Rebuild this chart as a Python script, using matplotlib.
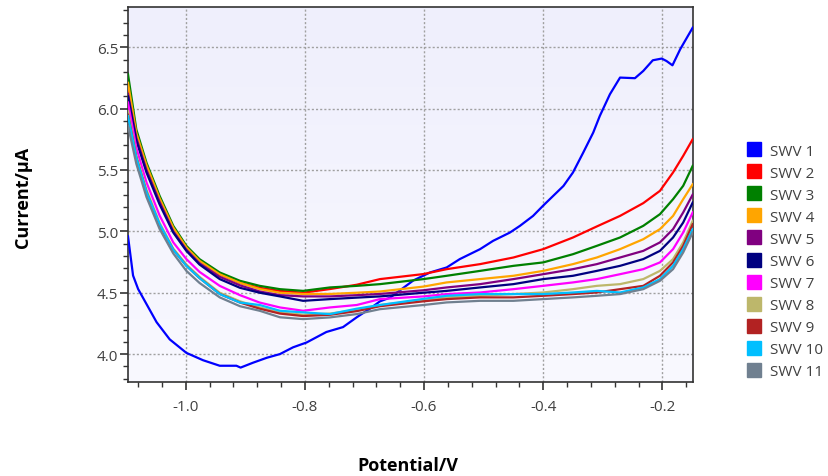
import numpy as np
import matplotlib
matplotlib.use("Agg")
import matplotlib.pyplot as plt
from matplotlib.lines import Line2D

plt.rcParams["font.family"] = ["Open Sans", "DejaVu Sans"]

labels = ["SWV 1", "SWV 2", "SWV 3", "SWV 4", "SWV 5", "SWV 6",
          "SWV 7", "SWV 8", "SWV 9", "SWV 10", "SWV 11"]
colors = ["#0000FF", "#FF0000", "#008000", "#FFA500", "#800080", "#000080",
          "#FF00FF", "#BDB76B", "#B22222", "#00BFFF", "#708090"]

# SWV 1 has its own potentials
x1 = [-1.097, -1.0885, -1.080, -1.049, -1.027, -0.999, -0.971, -0.943, -0.915,
      -0.908, -0.887, -0.864, -0.842, -0.820, -0.797, -0.764, -0.736, -0.713,
      -0.691, -0.674, -0.657, -0.618, -0.590, -0.562, -0.540, -0.506, -0.484,
      -0.456, -0.439, -0.417, -0.400, -0.383, -0.366, -0.350, -0.333, -0.316,
      -0.305, -0.288, -0.271, -0.246, -0.232, -0.216, -0.201, -0.193, -0.183,
      -0.170, -0.149]
swv1 = [4.96, 4.64, 4.53, 4.26, 4.12, 4.01, 3.95, 3.905, 3.905,
        3.89, 3.93, 3.97, 4.00, 4.055, 4.095, 4.18, 4.22, 4.30,
        4.37, 4.43, 4.46, 4.60, 4.665, 4.706, 4.774, 4.855, 4.923,
        4.99, 5.045, 5.126, 5.21, 5.29, 5.37, 5.48, 5.64, 5.805,
        5.94, 6.117, 6.253, 6.248, 6.307, 6.394, 6.408, 6.388, 6.353,
        6.484, 6.66]

# SWV 2 - 11 share these potentials
x = [-1.097, -1.083, -1.066, -1.044, -1.021, -0.999, -0.977, -0.943, -0.909,
     -0.876, -0.842, -0.803, -0.758, -0.713, -0.674, -0.601, -0.562, -0.506,
     -0.450, -0.400, -0.350, -0.310, -0.271, -0.232, -0.204, -0.182, -0.165,
     -0.149]
swv2 = [6.15, 5.78, 5.53, 5.27, 5.03, 4.87, 4.76, 4.65, 4.58, 4.54, 4.515,
        4.50, 4.53, 4.565, 4.611, 4.652, 4.692, 4.733, 4.787, 4.855, 4.95,
        5.04, 5.126, 5.23, 5.33, 5.48, 5.615, 5.751]
swv3 = [6.28, 5.83, 5.56, 5.29, 5.045, 4.882, 4.774, 4.665, 4.597, 4.556,
        4.529, 4.515, 4.543, 4.556, 4.57, 4.611, 4.638, 4.678, 4.719, 4.747,
        4.814, 4.882, 4.950, 5.045, 5.140, 5.262, 5.371, 5.534]
swv4 = [6.21, 5.80, 5.54, 5.27, 5.03, 4.87, 4.76, 4.65, 4.58, 4.53, 4.50,
        4.49, 4.49, 4.50, 4.51, 4.55, 4.584, 4.611, 4.638, 4.678, 4.733,
        4.787, 4.855, 4.936, 5.018, 5.126, 5.262, 5.384]
swv5 = [6.12, 5.76, 5.50, 5.24, 5.00, 4.85, 4.74, 4.63, 4.56, 4.51, 4.48,
        4.47, 4.47, 4.48, 4.49, 4.52, 4.543, 4.57, 4.611, 4.651, 4.692,
        4.733, 4.787, 4.841, 4.91, 5.018, 5.154, 5.30]
swv6 = [6.10, 5.74, 5.48, 5.22, 4.99, 4.841, 4.73, 4.611, 4.54, 4.50, 4.47,
        4.434, 4.448, 4.46, 4.47, 4.50, 4.515, 4.543, 4.57, 4.611, 4.638,
        4.678, 4.719, 4.774, 4.841, 4.95, 5.072, 5.235]
swv7 = [6.05, 5.68, 5.40, 5.13, 4.91, 4.774, 4.67, 4.556, 4.48, 4.42, 4.38,
        4.353, 4.38, 4.40, 4.448, 4.47, 4.489, 4.502, 4.529, 4.556, 4.584,
        4.611, 4.651, 4.692, 4.747, 4.855, 4.991, 5.154]
swv8 = [5.98, 5.62, 5.34, 5.07, 4.86, 4.73, 4.63, 4.50, 4.43, 4.38, 4.34,
        4.32, 4.33, 4.36, 4.40, 4.44, 4.462, 4.475, 4.489, 4.502, 4.529,
        4.556, 4.57, 4.611, 4.678, 4.774, 4.91, 5.085]
swv9 = [5.95, 5.60, 5.32, 5.05, 4.85, 4.72, 4.62, 4.49, 4.42, 4.37, 4.33,
        4.31, 4.32, 4.35, 4.39, 4.43, 4.448, 4.462, 4.462, 4.475, 4.489,
        4.502, 4.529, 4.556, 4.638, 4.747, 4.882, 5.058]
swv10 = [5.94, 5.60, 5.32, 5.06, 4.85, 4.719, 4.62, 4.489, 4.42, 4.40, 4.353,
         4.34, 4.326, 4.37, 4.40, 4.45, 4.475, 4.489, 4.489, 4.489, 4.502,
         4.515, 4.502, 4.543, 4.611, 4.719, 4.855, 5.018]
swv11 = [5.86, 5.55, 5.28, 5.02, 4.82, 4.678, 4.58, 4.462, 4.39, 4.353, 4.30,
         4.285, 4.299, 4.326, 4.366, 4.40, 4.421, 4.434, 4.434, 4.448, 4.462,
         4.475, 4.489, 4.529, 4.597, 4.692, 4.828, 4.991]

series = [swv2, swv3, swv4, swv5, swv6, swv7, swv8, swv9, swv10, swv11]

# Figure .......................................................................
fig = plt.figure(figsize=(8.29, 4.77), dpi=100)
ax = fig.add_axes([0.1544, 0.1964, 0.6812, 0.7868])

# light lavender gradient behind the curves
grad = np.linspace(0, 1, 256).reshape(-1, 1)
top = np.array([0.937, 0.937, 0.99])
bottom = np.array([0.975, 0.975, 0.998])
img = top + (bottom - top) * grad[:, :, None]
ax.imshow(img, extent=[0, 1, 0, 1], transform=ax.transAxes,
          aspect="auto", zorder=0)

ax.plot(x1, swv1, color=colors[0], lw=1.6, zorder=3)
for y, c in zip(series, colors[1:]):
    ax.plot(x, y, color=c, lw=1.6, zorder=3)

ax.set_xlim(-1.097, -0.149)
ax.set_ylim(3.77, 6.828)
ax.set_xticks([-1.0, -0.8, -0.6, -0.4, -0.2])
ax.set_xticklabels(["-1.0", "-0.8", "-0.6", "-0.4", "-0.2"])
ax.set_yticks([4.0, 4.5, 5.0, 5.5, 6.0, 6.5])
ax.set_xticks(np.arange(-1.08, -0.14, 0.04), minor=True)
ax.set_yticks(np.arange(3.8, 6.85, 0.1), minor=True)

ax.grid(True, which="major", color="#a0a0a0", lw=1.0, ls=(0, (1.5, 1.5)))
ax.tick_params(which="major", direction="out", length=6, width=1.2,
               color="#333333", labelsize=11, labelcolor="#404040")
ax.tick_params(axis="x", which="major", pad=6)
ax.tick_params(axis="y", which="major", pad=1)
ax.tick_params(which="minor", direction="out", length=3.5, width=1.0,
               color="#333333")
for s in ax.spines.values():
    s.set_color("#333333")
    s.set_linewidth(1.2)

ax.set_xlabel("Potential/V", fontsize=13, fontweight="bold")
ax.set_ylabel("Current/\u00b5A", fontsize=13, fontweight="bold")
ax.xaxis.set_label_coords(0.496, -0.196)
ax.yaxis.set_label_coords(-0.170, 0.494)

handles = [Line2D([], [], ls="none", marker="s", markersize=10,
                  markerfacecolor=c, markeredgecolor=c) for c in colors]
fig.legend(handles, labels, loc="center left", bbox_to_anchor=(0.884, 0.45),
           frameon=False, fontsize=11, labelspacing=0.46, handlelength=1.0,
           handletextpad=0.55, labelcolor="#404040")

fig.savefig("out.png", dpi=100)
